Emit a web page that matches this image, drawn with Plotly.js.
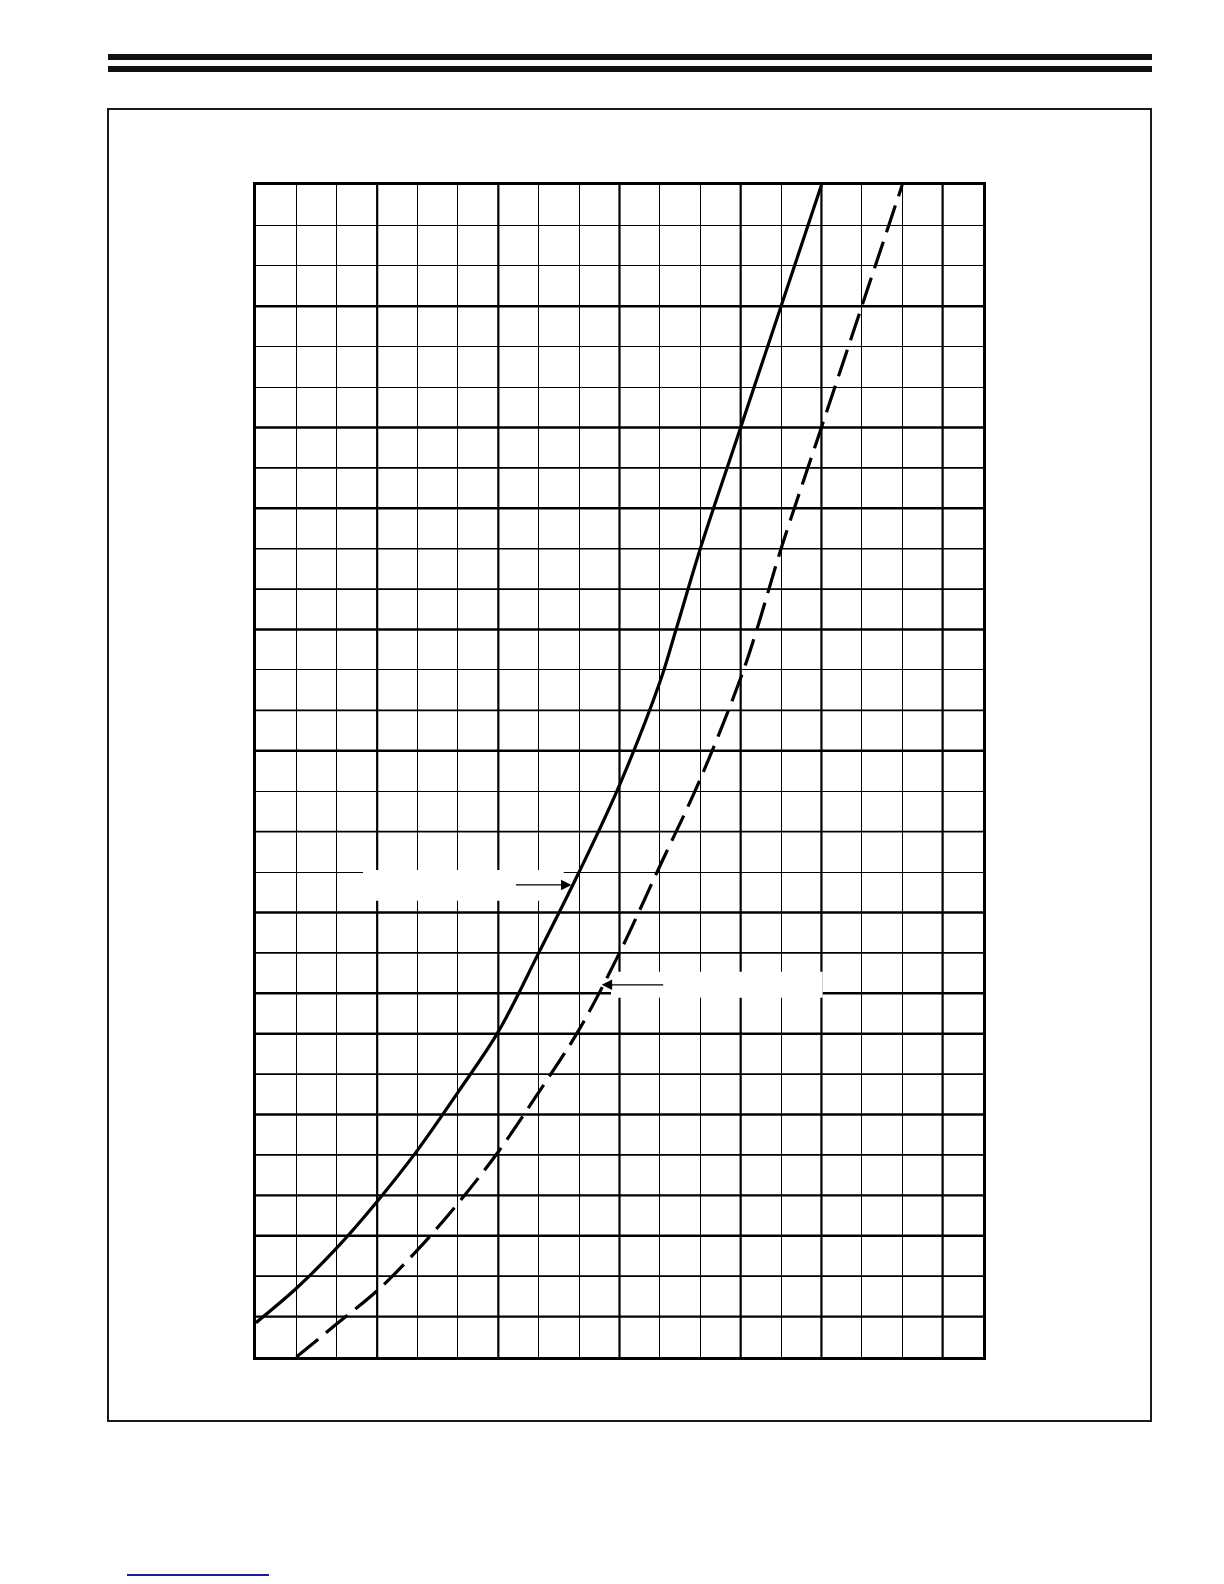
<!DOCTYPE html>
<html>
<head>
<meta charset="utf-8">
<script src="https://cdn.plot.ly/plotly-3.0.1.min.js"></script>
<style>
  html, body { margin: 0; padding: 0; background: #fff; }
  #wrap { position: relative; width: 1224px; height: 1584px; overflow: hidden; }
  #chart { position: absolute; left: 0; top: 0; width: 1224px; height: 1584px; }
  .bar { position: absolute; left: 108px; width: 1044px; height: 6px; background: #111; }
  #frame { position: absolute; left: 107px; top: 108px; width: 1041px; height: 1310px; border: 2px solid #1a1a1a; }
  #link { position: absolute; left: 127px; top: 1574px; width: 142px; height: 2px; background: #1c1c96; }
</style>
</head>
<body>
<div id="wrap">
  <div class="bar" style="top:54px"></div>
  <div class="bar" style="top:66px"></div>
  <div id="frame"></div>
  <div id="link"></div>
  <div id="chart"></div>
</div>
<script>
// Solid curve (grid units)
const solidX = [0, 1, 2, 3, 4, 5, 6, 7, 8, 9, 10, 10.4, 11, 12, 13, 14];
const solidY = [0.85, 1.7, 2.7, 3.85, 5.12, 6.55, 8.05, 10.0, 12.0, 14.15, 16.7, 18.0, 20.0, 23.0, 26.0, 29.0];
// Dashed curve
const dashX = [1, 2, 3, 4, 5, 6, 7, 8, 9, 10, 11, 12, 12.4, 13, 14, 15, 16];
const dashY = [0, 0.82, 1.64, 2.65, 3.8, 5.08, 6.55, 8.1, 10.0, 12.15, 14.3, 16.8, 18.0, 20.0, 23.0, 26.0, 29.0];

// Grid extent
const xMax = 18;
const yMax = 29;
// Heavier grid lines seen in the scan
const thickX = [3, 6, 9, 12, 14, 17];
const thickY = [1, 3, 4, 6, 8, 9, 11, 15, 18, 21, 23, 26];
const mediumY = [2, 5, 7, 10, 13, 16, 19, 20, 22];

// Blank label boxes (grid units) and arrows
const boxes = [
  {x0: 2.65, x1: 7.62, y0: 11.29, y1: 12.05},
  {x0: 8.79, x1: 14.03, y0: 8.89, y1: 9.53}
];
const arrows = [
  {x: 7.81, y: 11.68, ax: -57},
  {x: 8.56, y: 9.21, ax: 63}
];

const shapes = [];
thickX.forEach(v => shapes.push({type: 'line', layer: 'between', xref: 'x', yref: 'y', x0: v, x1: v, y0: 0, y1: yMax, line: {color: '#000', width: 2.2}}));
thickY.forEach(v => shapes.push({type: 'line', layer: 'between', xref: 'x', yref: 'y', x0: 0, x1: xMax, y0: v, y1: v, line: {color: '#000', width: 2.4}}));
mediumY.forEach(v => shapes.push({type: 'line', layer: 'between', xref: 'x', yref: 'y', x0: 0, x1: xMax, y0: v, y1: v, line: {color: '#000', width: 1.6}}));
boxes.forEach(b => shapes.push({type: 'rect', layer: 'between', xref: 'x', yref: 'y', x0: b.x0, x1: b.x1, y0: b.y0, y1: b.y1, fillcolor: '#fff', line: {width: 0}}));

const annotations = arrows.map(a => ({
  x: a.x, y: a.y, xref: 'x', yref: 'y', text: '', showarrow: true,
  ax: a.ax, ay: 0, arrowhead: 2, arrowsize: 1.6, arrowwidth: 1.3, arrowcolor: '#000', standoff: 0
}));

const traces = [
  {x: solidX, y: solidY, type: 'scatter', mode: 'lines', line: {color: '#000', width: 3.2, shape: 'spline', smoothing: 1.0}, hoverinfo: 'skip'},
  {x: dashX, y: dashY, type: 'scatter', mode: 'lines', line: {color: '#000', width: 3.2, dash: '28px,10px', shape: 'spline', smoothing: 1.0}, hoverinfo: 'skip'}
];

const axisBase = {
  showgrid: true, gridcolor: '#000', gridwidth: 1,
  dtick: 1, tick0: 0, showticklabels: false, ticks: '',
  zeroline: false, showline: true, linecolor: '#000', linewidth: 3, mirror: true,
  fixedrange: true
};

const layout = {
  width: 1224, height: 1584,
  margin: {l: 256, r: 241, t: 185, b: 227, pad: 0},
  paper_bgcolor: 'rgba(0,0,0,0)', plot_bgcolor: 'rgba(0,0,0,0)',
  showlegend: false,
  xaxis: Object.assign({}, axisBase, {range: [0, xMax]}),
  yaxis: Object.assign({}, axisBase, {range: [0, yMax]}),
  shapes: shapes,
  annotations: annotations
};

Plotly.newPlot('chart', traces, layout, {staticPlot: true, displayModeBar: false});
</script>
</body>
</html>
